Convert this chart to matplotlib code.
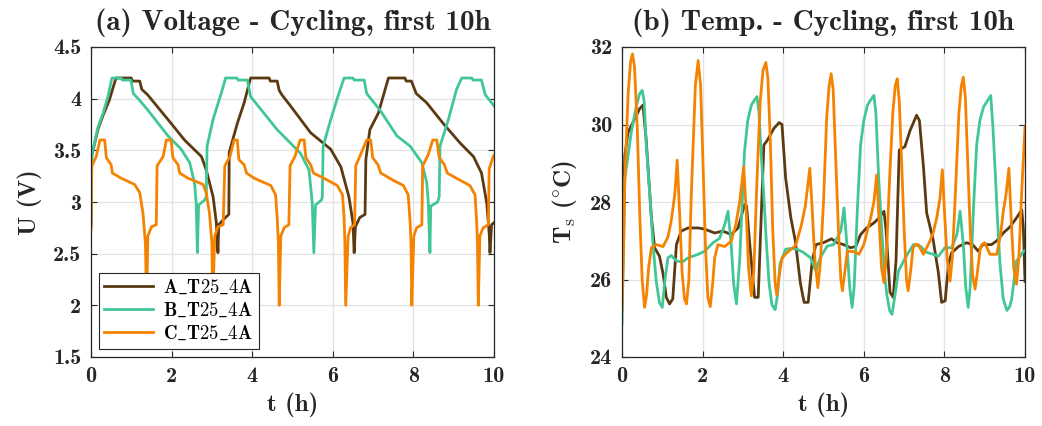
import matplotlib
matplotlib.use("Agg")
import matplotlib.pyplot as plt

plt.rcParams['font.family'] = 'serif'
plt.rcParams['font.serif'] = ['cmb10']
plt.rcParams['mathtext.fontset'] = 'cm'
plt.rcParams['axes.formatter.use_mathtext'] = True

# ---------------- data: voltage ----------------
labels = ['A_T25_4A', 'B_T25_4A', 'C_T25_4A']
colors = ['#5B3A12', '#41C796', '#F58200']

vA_t = [0, 0.02, 0.17, 0.30, 0.45, 0.62, 1.00, 1.03, 1.21, 1.26, 1.40, 1.99, 2.32, 2.74, 2.86,
        3.03, 3.11, 3.15, 3.17, 3.31, 3.42, 3.43, 3.63, 3.80, 3.96, 4.42, 4.45, 4.62, 4.67, 4.75,
        4.95, 5.45, 5.95, 6.20, 6.40, 6.50, 6.53, 6.56, 6.67, 6.80, 6.82, 6.92, 7.13, 7.38, 7.79,
        7.82, 7.95, 8.07, 8.33, 8.74, 9.16, 9.49, 9.69, 9.82, 9.88, 9.90, 9.94, 10.0]
vA_v = [2.78, 3.45, 3.70, 3.84, 3.98, 4.20, 4.20, 4.17, 4.17, 4.09, 4.04, 3.76, 3.60, 3.44, 3.31,
        3.05, 2.80, 2.51, 2.78, 2.84, 2.88, 3.48, 3.76, 3.96, 4.20, 4.20, 4.17, 4.17, 4.08, 4.03,
        3.93, 3.67, 3.51, 3.34, 3.05, 2.80, 2.51, 2.76, 2.85, 2.88, 3.41, 3.70, 3.86, 4.20, 4.20,
        4.17, 4.17, 4.05, 3.96, 3.76, 3.57, 3.44, 3.28, 2.99, 2.70, 2.51, 2.78, 2.80]

vB_t = [0, 0.02, 0.17, 0.30, 0.42, 0.52, 0.75, 0.78, 0.99, 1.05, 1.17, 1.41, 1.91, 2.24, 2.45,
        2.57, 2.61, 2.64, 2.67, 2.82, 2.86, 2.88, 3.03, 3.23, 3.34, 3.62, 3.65, 3.88, 3.96, 4.29,
        4.62, 4.95, 5.20, 5.41, 5.49, 5.53, 5.57, 5.72, 5.74, 5.76, 5.95, 6.15, 6.28, 6.50, 6.53,
        6.78, 6.84, 7.17, 7.59, 7.92, 8.21, 8.33, 8.37, 8.41, 8.43, 8.60, 8.64, 8.66, 8.87, 9.07,
        9.20, 9.45, 9.48, 9.69, 9.78, 10.0]
vB_v = [2.85, 3.45, 3.72, 3.86, 4.02, 4.20, 4.20, 4.18, 4.18, 4.05, 4.00, 3.89, 3.64, 3.51, 3.38,
        3.18, 2.99, 2.51, 2.97, 3.02, 3.05, 3.54, 3.80, 4.05, 4.20, 4.20, 4.18, 4.18, 4.02, 3.86,
        3.70, 3.57, 3.47, 3.31, 2.99, 2.51, 2.97, 3.02, 3.05, 3.54, 3.80, 4.05, 4.20, 4.20, 4.18,
        4.18, 4.05, 3.89, 3.64, 3.54, 3.38, 3.19, 2.99, 2.51, 2.96, 3.00, 3.05, 3.54, 3.80, 4.09,
        4.20, 4.20, 4.18, 4.18, 4.04, 3.93]

vC_t = [0, 0.02, 0.13, 0.22, 0.34, 0.38, 0.50, 0.53, 0.75, 1.08, 1.21, 1.29, 1.35, 1.38, 1.41,
        1.50, 1.62, 1.64, 1.79, 1.87, 1.99, 2.03, 2.16, 2.20, 2.41, 2.78, 2.86, 2.94, 3.00, 3.02,
        3.07, 3.15, 3.28, 3.32, 3.45, 3.55, 3.63, 3.67, 3.80, 3.86, 4.05, 4.46, 4.58, 4.62, 4.65,
        4.67, 4.71, 4.79, 4.91, 4.94, 5.06, 5.19, 5.29, 5.33, 5.45, 5.52, 5.78, 6.11, 6.24, 6.28,
        6.30, 6.32, 6.38, 6.44, 6.54, 6.57, 6.69, 6.84, 6.94, 6.99, 7.12, 7.19, 7.50, 7.75, 7.87,
        7.92, 7.94, 7.96, 8.01, 8.08, 8.21, 8.23, 8.37, 8.48, 8.58, 8.64, 8.77, 8.84, 9.16, 9.40,
        9.53, 9.57, 9.59, 9.61, 9.65, 9.73, 9.86, 9.88, 9.98, 10.0]
vC_v = [2.73, 3.35, 3.44, 3.60, 3.60, 3.43, 3.36, 3.28, 3.23, 3.17, 3.09, 2.89, 2.60, 2.00, 2.67,
        2.76, 2.78, 3.35, 3.44, 3.60, 3.60, 3.43, 3.36, 3.28, 3.23, 3.17, 3.09, 2.89, 2.60, 2.00,
        2.67, 2.76, 2.78, 3.35, 3.44, 3.60, 3.60, 3.41, 3.36, 3.28, 3.23, 3.16, 3.07, 2.85, 2.60,
        2.00, 2.67, 2.75, 2.78, 3.35, 3.44, 3.60, 3.60, 3.43, 3.36, 3.28, 3.23, 3.16, 3.07, 2.85,
        2.60, 2.00, 2.67, 2.75, 2.78, 3.35, 3.46, 3.60, 3.60, 3.43, 3.36, 3.28, 3.21, 3.16, 3.07,
        2.80, 2.60, 2.00, 2.67, 2.75, 2.78, 3.35, 3.46, 3.60, 3.60, 3.43, 3.36, 3.28, 3.21, 3.16,
        3.07, 2.80, 2.60, 2.00, 2.67, 2.75, 2.78, 3.32, 3.44, 3.45]

# ---------------- data: temperature ----------------
tA_t = [0, 0.07, 0.15, 0.27, 0.44, 0.52, 0.60, 0.73, 0.81, 0.93, 1.02, 1.10, 1.18, 1.26, 1.35,
        1.47, 1.64, 1.90, 2.05, 2.30, 2.50, 2.71, 2.88, 3.04, 3.09, 3.18, 3.29, 3.38, 3.45, 3.52,
        3.61, 3.77, 3.90, 3.97, 4.06, 4.19, 4.30, 4.43, 4.52, 4.62, 4.72, 4.81, 5.00, 5.20, 5.34,
        5.50, 5.67, 5.80, 5.92, 6.07, 6.25, 6.38, 6.50, 6.55, 6.65, 6.73, 6.80, 6.88, 7.02, 7.15,
        7.31, 7.38, 7.48, 7.56, 7.72, 7.85, 7.93, 8.02, 8.10, 8.18, 8.35, 8.55, 8.70, 8.84, 8.95,
        9.17, 9.30, 9.46, 9.62, 9.79, 9.92, 9.96, 10.0]
tA_v = [26.5, 29.2, 29.8, 30.05, 30.41, 30.5, 29.6, 27.59, 26.82, 26.6, 26.14, 25.54, 25.37, 25.5, 26.9,
        27.25, 27.33, 27.33, 27.3, 27.2, 27.25, 27.16, 27.33, 27.93, 27.9, 26.8, 25.54, 25.54, 27.5, 29.47,
        29.6, 29.9, 30.05, 30.0, 28.62, 27.59, 27.0, 25.88, 25.41, 25.41, 26.48, 26.9, 26.95, 27.05, 26.95,
        26.9, 26.82, 26.85, 27.16, 27.33, 27.46, 27.59, 27.76, 27.3, 25.67, 25.54, 26.5, 29.34, 29.43, 29.85,
        30.24, 30.1, 28.91, 27.72, 27.03, 26.18, 25.41, 25.45, 26.4, 26.69, 26.85, 26.95, 26.9, 26.73, 26.9,
        26.9, 27.0, 27.2, 27.35, 27.59, 27.8, 27.3, 25.95]

tB_t = [0, 0.07, 0.15, 0.23, 0.36, 0.44, 0.50, 0.55, 0.60, 0.69, 0.77, 0.85, 0.93, 1.00, 1.06,
        1.14, 1.22, 1.35, 1.50, 1.64, 1.89, 2.05, 2.26, 2.42, 2.55, 2.63, 2.71, 2.77, 2.84, 2.92,
        3.04, 3.12, 3.21, 3.30, 3.35, 3.40, 3.45, 3.51, 3.58, 3.65, 3.72, 3.80, 3.86, 3.92, 4.06,
        4.20, 4.35, 4.50, 4.68, 4.81, 4.92, 5.09, 5.25, 5.43, 5.51, 5.58, 5.65, 5.71, 5.76, 5.84,
        5.92, 6.00, 6.09, 6.18, 6.25, 6.30, 6.37, 6.45, 6.52, 6.57, 6.64, 6.70, 6.76, 6.86, 7.03,
        7.23, 7.40, 7.56, 7.72, 7.85, 8.01, 8.18, 8.31, 8.39, 8.47, 8.53, 8.59, 8.64, 8.72, 8.80,
        8.88, 8.97, 9.06, 9.15, 9.20, 9.26, 9.32, 9.38, 9.46, 9.55, 9.62, 9.67, 9.73, 9.79, 9.97,
        10.0]
tB_v = [24.85, 28.6, 29.2, 29.8, 30.5, 30.8, 30.88, 30.6, 29.5, 28.19, 26.9, 25.95, 25.4, 25.28, 25.94,
        26.56, 26.62, 26.48, 26.45, 26.56, 26.65, 26.73, 26.95, 27.06, 27.42, 27.76, 26.9, 25.9, 25.37, 26.5,
        29.3, 30.1, 30.5, 30.65, 30.72, 30.3, 29.3, 28.32, 27.0, 25.9, 25.35, 25.22, 25.6, 26.4, 26.78,
        26.8, 26.78, 26.7, 26.56, 26.22, 26.56, 26.86, 26.9, 27.25, 27.85, 26.9, 25.8, 25.28, 25.8, 27.8,
        29.47, 30.1, 30.5, 30.65, 30.75, 30.3, 28.6, 27.2, 26.1, 25.62, 25.2, 25.1, 25.5, 26.22, 26.56,
        26.9, 26.86, 26.7, 26.65, 26.6, 26.82, 26.82, 27.16, 27.76, 26.9, 25.8, 25.28, 25.8, 27.8, 29.47,
        30.1, 30.45, 30.6, 30.75, 30.0, 28.8, 27.5, 26.4, 25.5, 25.2, 25.3, 25.5, 26.0, 26.48, 26.73,
        26.75]

tC_t = [0, 0.04, 0.07, 0.15, 0.21, 0.26, 0.31, 0.38, 0.44, 0.50, 0.56, 0.61, 0.66, 0.73, 0.85,
        1.02, 1.14, 1.22, 1.31, 1.37, 1.43, 1.49, 1.55, 1.60, 1.66, 1.72, 1.82, 1.89, 1.95, 2.01,
        2.07, 2.13, 2.19, 2.25, 2.30, 2.38, 2.55, 2.71, 2.82, 2.92, 3.02, 3.08, 3.14, 3.21, 3.27,
        3.35, 3.43, 3.50, 3.57, 3.62, 3.68, 3.74, 3.80, 3.84, 3.90, 3.97, 4.09, 4.31, 4.45, 4.55,
        4.66, 4.72, 4.78, 4.86, 4.92, 5.00, 5.08, 5.14, 5.19, 5.24, 5.30, 5.37, 5.43, 5.47, 5.53,
        5.59, 5.76, 5.88, 6.00, 6.10, 6.17, 6.25, 6.32, 6.38, 6.44, 6.50, 6.56, 6.64, 6.72, 6.78,
        6.83, 6.88, 6.94, 7.00, 7.06, 7.10, 7.16, 7.22, 7.27, 7.35, 7.48, 7.64, 7.72, 7.81, 7.89,
        7.95, 8.01, 8.07, 8.14, 8.20, 8.28, 8.36, 8.42, 8.47, 8.52, 8.58, 8.64, 8.70, 8.76, 8.82,
        8.89, 8.93, 9.00, 9.13, 9.30, 9.40, 9.46, 9.53, 9.60, 9.66, 9.72, 9.79, 9.85, 9.92, 10.0]
tC_v = [25.2, 26.8, 28.6, 30.75, 31.6, 31.82, 31.5, 29.9, 27.7, 26.0, 25.28, 25.6, 26.3, 26.82, 26.9,
        26.85, 27.1, 27.5, 28.2, 29.08, 27.7, 26.2, 25.5, 25.37, 26.0, 28.2, 31.0, 31.65, 31.0, 29.0,
        26.9, 25.54, 25.3, 25.9, 26.56, 26.9, 26.85, 26.99, 27.4, 28.0, 28.91, 27.8, 26.3, 25.58, 26.2,
        28.6, 30.6, 31.4, 31.6, 31.2, 29.6, 27.3, 25.9, 25.6, 26.1, 26.55, 26.69, 26.88, 27.4, 27.9,
        28.87, 27.8, 26.6, 25.79, 26.4, 28.0, 30.2, 31.0, 31.31, 30.9, 29.2, 27.3, 26.0, 25.71, 26.2,
        26.73, 26.72, 26.65, 26.9, 27.3, 27.59, 28.0, 28.7, 27.5, 26.3, 25.92, 26.6, 28.6, 30.3, 31.0,
        31.18, 30.6, 29.0, 27.3, 26.0, 25.71, 26.2, 26.8, 26.9, 26.9, 26.65, 26.99, 27.2, 27.59, 28.1,
        28.83, 27.6, 26.5, 25.96, 26.6, 28.4, 30.3, 31.0, 31.22, 30.7, 29.0, 27.3, 26.1, 25.75, 26.2,
        26.8, 26.9, 26.95, 26.65, 26.65, 27.2, 27.76, 28.2, 28.87, 27.5, 26.3, 25.88, 26.6, 28.3, 29.94]

v_series = [(vA_t, vA_v), (vB_t, vB_v), (vC_t, vC_v)]
t_series = [(tA_t, tA_v), (tB_t, tB_v), (tC_t, tC_v)]

x_ticks = [0, 2, 4, 6, 8, 10]
v_ticks = [1.5, 2, 2.5, 3, 3.5, 4, 4.5]
T_ticks = [24, 26, 28, 30, 32]

# ---------------- figure ----------------
W, H = 1042, 426
fig = plt.figure(figsize=(W / 100, H / 100), dpi=100)
ax1 = fig.add_axes([91 / W, 69 / H, 403 / W, 310 / H])
ax2 = fig.add_axes([622 / W, 69 / H, 403 / W, 310 / H])

lw = 2.0
for (t, v), c, lab in zip(v_series, colors, labels):
    ax1.plot(t, v, color=c, lw=lw, label=r'$\mathbf{' + lab.replace('_', r'\_') + '}$',
             solid_joinstyle='round')
for (t, v), c in zip(t_series, colors):
    ax2.plot(t, v, color=c, lw=lw, solid_joinstyle='round')

txt = '#262626'

def style(ax):
    ax.set_xlim(0, 10)
    ax.set_xticks(x_ticks)
    ax.grid(True, color='#e3e3e3', lw=0.9)
    ax.set_axisbelow(True)
    ax.tick_params(direction='in', top=True, right=True, length=4, width=0.8,
                   labelsize=16, colors=txt, pad=7)
    for s in ax.spines.values():
        s.set_color(txt)
        s.set_linewidth(0.9)
    ax.set_xticklabels([str(x) for x in x_ticks])

style(ax1)
ax1.set_ylim(1.5, 4.5)
ax1.set_yticks(v_ticks)
ax1.set_yticklabels(['%g' % v for v in v_ticks])
style(ax2)
ax2.set_ylim(24, 32)
ax2.set_yticks(T_ticks)
ax2.set_yticklabels([str(v) for v in T_ticks])

ax1.set_title('(a) Voltage - Cycling, first 10h', fontsize=21, color=txt, pad=12)
ax2.set_title('(b) Temp. - Cycling, first 10h', fontsize=21, color=txt, pad=12)
ax1.set_xlabel('t (h)', fontsize=18, color=txt, labelpad=5)
ax2.set_xlabel('t (h)', fontsize=18, color=txt, labelpad=5)
ax1.set_ylabel('U (V)', fontsize=18, color=txt, labelpad=8)
ax2.set_ylabel(r'T$_{\rm s}$ ($^{\circ}$C)', fontsize=18, color=txt, labelpad=8)

leg = ax1.legend(loc='lower left', bbox_to_anchor=(0.01, 0.015), fontsize=13.5, frameon=True,
                 fancybox=False, framealpha=1, edgecolor=txt, handlelength=2.6,
                 borderpad=0.3, labelspacing=0.25, handletextpad=0.5, borderaxespad=0.2)
leg.get_frame().set_linewidth(0.8)

fig.savefig('out.png', dpi=100)
